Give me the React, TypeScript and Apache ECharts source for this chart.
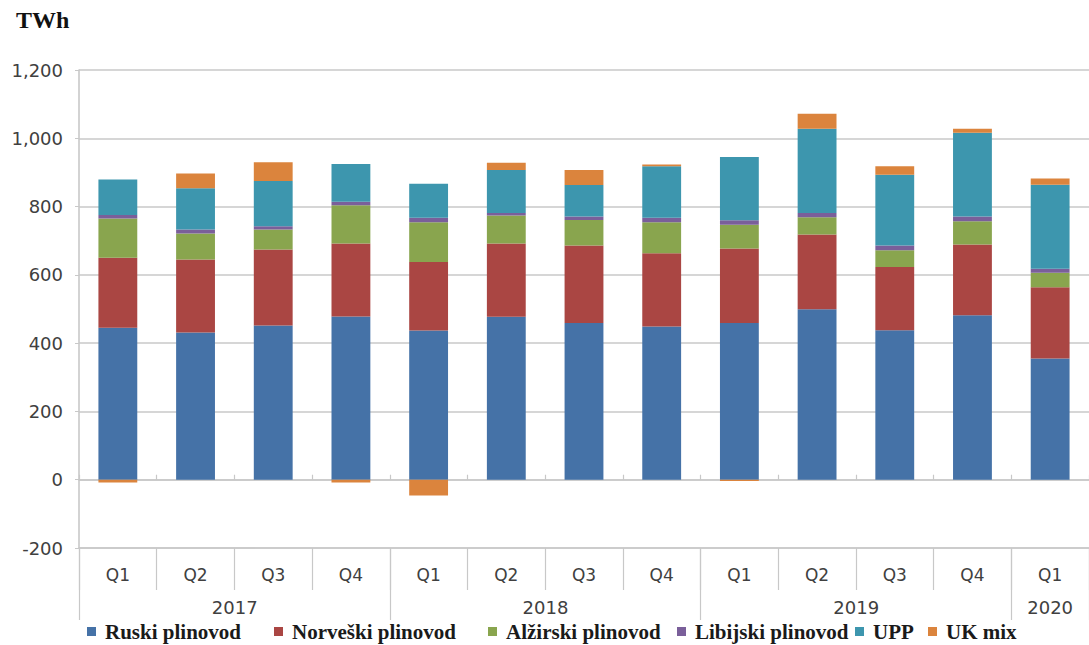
import React, { useEffect, useRef } from "react";
import * as echarts from "echarts";

const quarters = ["Q1", "Q2", "Q3", "Q4", "Q1", "Q2", "Q3", "Q4", "Q1", "Q2", "Q3", "Q4", "Q1"];
const years = ["2017", "2017", "2017", "2017", "2018", "2018", "2018", "2018", "2019", "2019", "2019", "2019", "2020"];

const ruski = [445, 431, 452, 478, 437, 477, 459, 449, 459, 499, 438, 482, 355];
const norveski = [205, 214, 222, 214, 201, 215, 227, 214, 218, 219, 185, 207, 209];
const alzirski = [115, 76, 59, 112, 116, 82, 75, 91, 70, 51, 49, 68, 42];
const libijski = [10, 12, 9, 10, 13, 7, 10, 13, 13, 12, 14, 14, 12];
const upp = [104, 121, 133, 111, 100, 126, 92, 151, 185, 247, 207, 245, 246];
const ukMix = [-8, 43, 55, -8, -46, 21, 44, 5, -4, 44, 25, 12, 18];

const seriesNames = ["Ruski plinovod", "Norveški plinovod", "Alžirski plinovod", "Libijski plinovod", "UPP", "UK mix"];
const seriesColors = ["#4572A7", "#AA4643", "#89A54E", "#7A5F9A", "#3D96AE", "#DB843D"];
const seriesData = [ruski, norveski, alzirski, libijski, upp, ukMix];

const yTickMin = -200;
const yTickMax = 1200;
const yTickStep = 200;

const legendLefts = [87, 274, 488, 677, 855, 928];

const GRID_LEFT = 79;
const GRID_TOP = 70;
const GRID_W = 1018;
const GRID_H = 478;
const CAT_W = GRID_W / quarters.length;

const gridColor = "#c8c8c8";
const labelFont = "'DejaVu Sans', Verdana, sans-serif";
const serifFont = "'Liberation Serif', 'Times New Roman', serif";

function buildYearLabels() {
  const map: Record<number, { text: string; shifted: boolean }> = {};
  let start = 0;
  for (let i = 1; i <= years.length; i++) {
    if (i === years.length || years[i] !== years[start]) {
      const mid = (start + i - 1) / 2;
      map[Math.floor(mid)] = { text: years[start], shifted: mid % 1 !== 0 };
      start = i;
    }
  }
  return map;
}

export default function App() {
  const ref = useRef<HTMLDivElement>(null);

  useEffect(() => {
    if (!ref.current) return;
    const chart = echarts.init(ref.current, null, { renderer: "svg" });
    const yearLabels = buildYearLabels();

    const option: any = {
      animation: false,
      backgroundColor: "#ffffff",
      title: {
        text: "TWh",
        left: 16,
        top: 8,
        padding: 0,
        textStyle: { fontFamily: serifFont, fontWeight: "bold", fontSize: 24, color: "#111" },
      },
      grid: { left: GRID_LEFT, top: GRID_TOP, width: GRID_W, height: GRID_H, containLabel: false },
      legend: seriesNames.map((name, i) => ({
        data: [name],
        left: legendLefts[i],
        top: 621,
        padding: 0,
        icon: "rect",
        itemWidth: 9,
        itemHeight: 9,
        selectedMode: false,
        textStyle: {
          fontFamily: serifFont,
          fontWeight: "bold",
          fontSize: 21,
          color: "#1a1a1a",
          padding: [0, 0, 0, 4],
        },
      })),
      xAxis: [
        {
          type: "category",
          data: quarters,
          position: "bottom",
          boundaryGap: true,
          axisLine: { show: true, onZero: false, lineStyle: { color: gridColor, width: 1.6 } },
          axisTick: { show: true, interval: 0, alignWithLabel: false, length: 42, lineStyle: { color: gridColor, width: 1.2 } },
          axisLabel: { interval: 0, margin: 18, fontFamily: labelFont, fontSize: 17, color: "#404040" },
          splitLine: { show: false },
        },
        {
          type: "category",
          data: years,
          position: "bottom",
          boundaryGap: true,
          axisLine: { show: false, onZero: false },
          axisTick: {
            show: true,
            alignWithLabel: false,
            interval: (index: number) => index === 0 || years[index] !== years[index - 1],
            length: 72,
            lineStyle: { color: gridColor, width: 1.2 },
          },
          axisLabel: {
            interval: 0,
            margin: 50,
            hideOverlap: false,
            formatter: (_v: string, index: number) => {
              const y = yearLabels[index];
              if (!y) return "";
              return y.shifted ? `{s|${y.text}}` : `{n|${y.text}}`;
            },
            rich: {
              s: { padding: [0, 0, 0, CAT_W], fontFamily: labelFont, fontSize: 18, color: "#404040" },
              n: { fontFamily: labelFont, fontSize: 18, color: "#404040" },
            },
          },
          splitLine: { show: false },
        },
        {
          type: "category",
          data: quarters,
          boundaryGap: true,
          axisLine: { show: true, onZero: true, lineStyle: { color: gridColor, width: 1.6 } },
          axisTick: { show: true, interval: 0, alignWithLabel: false, length: 5, lineStyle: { color: gridColor, width: 1.2 } },
          axisLabel: { show: false },
          splitLine: { show: false },
        },
      ],
      yAxis: {
        type: "value",
        min: yTickMin,
        max: yTickMax,
        interval: yTickStep,
        axisLine: { show: true, lineStyle: { color: gridColor, width: 1.6 } },
        axisTick: { show: true, length: 4, lineStyle: { color: gridColor } },
        axisLabel: {
          margin: 16,
          fontFamily: labelFont,
          fontSize: 18,
          color: "#404040",
          formatter: (v: number) => v.toLocaleString("en-US"),
        },
        splitLine: { show: true, lineStyle: { color: gridColor, width: 1.6 } },
      },
      series: seriesNames.map((name, i) => ({
        name,
        type: "bar",
        stack: "total",
        xAxisIndex: 0,
        yAxisIndex: 0,
        barWidth: "50%",
        itemStyle: { color: seriesColors[i] },
        data: seriesData[i],
      })),
    };

    chart.setOption(option);
    return () => chart.dispose();
  }, []);

  return (
    <div
      ref={ref}
      style={{ position: "fixed", left: 0, top: 0, width: 1089, height: 645, background: "#fff" }}
    />
  );
}
